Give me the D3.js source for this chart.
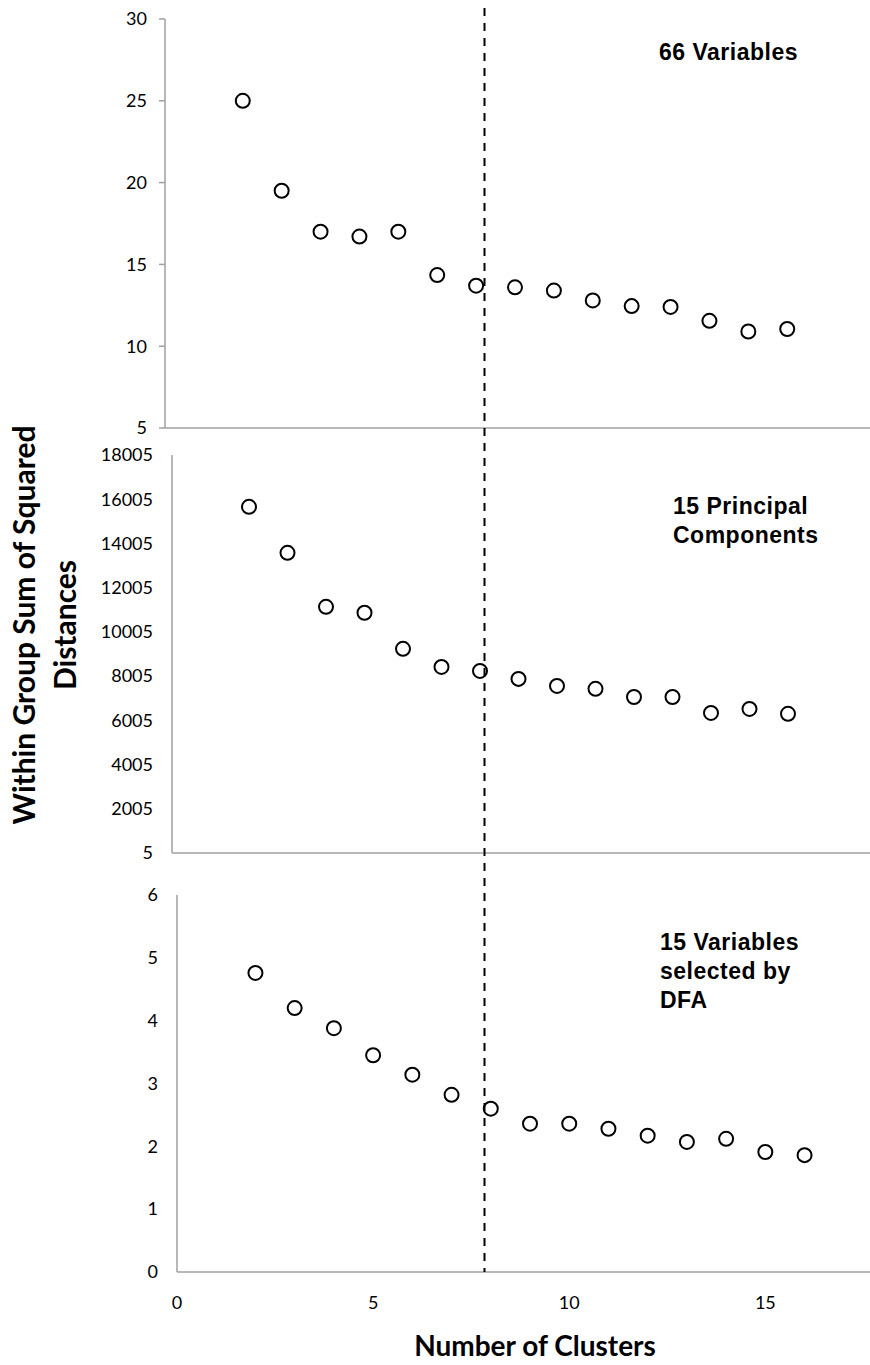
<!DOCTYPE html>
<html>
<head>
<meta charset="utf-8">
<script src="https://cdn.jsdelivr.net/npm/d3@7"></script>
<style>
  body { margin: 0; background: #fff; }
  svg text { fill: #000; }
  .tick-label { font-family: Lato, "Open Sans", sans-serif; font-size: 18px; }
  .panel-title { font-family: "Liberation Sans", Arial, sans-serif; font-weight: bold; font-size: 23px; letter-spacing: 0.5px; }
  .axis-title { font-family: Lato, "Open Sans", sans-serif; font-weight: bold; font-size: 28px; }
  .y-title { font-size: 30px; }
</style>
</head>
<body>
<svg id="chart" width="870" height="1365"></svg>
<script>
// cluster counts shared by all three panels
const clusters = [2, 3, 4, 5, 6, 7, 8, 9, 10, 11, 12, 13, 14, 15, 16];

// within-group sum of squared distances
const wgss66 = [25.0, 19.5, 17.0, 16.7, 17.0, 14.35, 13.7, 13.6, 13.4, 12.8, 12.45, 12.4, 11.55, 10.9, 11.05];
const wgssPC = [15660, 13580, 11140, 10870, 9240, 8420, 8240, 7880, 7560, 7430, 7060, 7060, 6340, 6520, 6300];
const wgssDFA = [4.76, 4.2, 3.88, 3.45, 3.14, 2.82, 2.6, 2.36, 2.36, 2.28, 2.17, 2.07, 2.12, 1.91, 1.86];

const ticks66 = [5, 10, 15, 20, 25, 30];
const ticksPC = [5, 2005, 4005, 6005, 8005, 10005, 12005, 14005, 16005, 18005];
const ticksDFA = [0, 1, 2, 3, 4, 5, 6];
const xTicks = [0, 5, 10, 15];

const chosenK = 7.84;

const svg = d3.select('#chart');

const panels = [
  { values: wgss66, ticks: ticks66, yDomain: [5, 30], xRange: [165, 865], yRange: [428, 19],
    tickSize: 6, labelX: 147, title: ['66 Variables'], titleX: 659, titleY: 60 },
  { values: wgssPC, ticks: ticksPC, yDomain: [5, 18005], xRange: [172, 865], yRange: [853, 455],
    tickSize: 0, labelX: 153, title: ['15 Principal', 'Components'], titleX: 673, titleY: 514 },
  { values: wgssDFA, ticks: ticksDFA, yDomain: [0, 6], xRange: [177, 883], yRange: [1272, 895],
    tickSize: 0, labelX: 158, title: ['15 Variables', 'selected by', 'DFA'], titleX: 660, titleY: 950 },
];

panels.forEach((p) => {
  p.x = d3.scaleLinear().domain([0, 18]).range(p.xRange);
  p.y = d3.scaleLinear().domain(p.yDomain).range(p.yRange);
  const g = svg.append('g');

  // axis lines
  g.append('line')
    .attr('x1', p.xRange[0]).attr('x2', 870)
    .attr('y1', p.yRange[0]).attr('y2', p.yRange[0])
    .attr('stroke', '#a0a0a0').attr('stroke-width', 1.5);
  g.append('line')
    .attr('x1', p.xRange[0]).attr('x2', p.xRange[0])
    .attr('y1', p.yRange[0]).attr('y2', p.yRange[1])
    .attr('stroke', '#a0a0a0').attr('stroke-width', 1.5);

  if (p.tickSize) {
    g.selectAll('line.tick')
      .data(p.ticks)
      .join('line')
      .attr('class', 'tick')
      .attr('x1', p.xRange[0] - p.tickSize).attr('x2', p.xRange[0])
      .attr('y1', (d) => p.y(d)).attr('y2', (d) => p.y(d))
      .attr('stroke', '#a0a0a0').attr('stroke-width', 1.5);
  }

  g.selectAll('text.tick-label')
    .data(p.ticks)
    .join('text')
    .attr('class', 'tick-label')
    .attr('x', p.labelX)
    .attr('y', (d) => p.y(d))
    .attr('dy', '0.35em')
    .attr('text-anchor', 'end')
    .text((d) => d);

  g.selectAll('circle')
    .data(p.values)
    .join('circle')
    .attr('cx', (d, i) => p.x(clusters[i]))
    .attr('cy', (d) => p.y(d))
    .attr('r', 7)
    .attr('fill', '#fff')
    .attr('stroke', '#000')
    .attr('stroke-width', 2);

  g.append('text')
    .attr('class', 'panel-title')
    .attr('x', p.titleX)
    .attr('y', p.titleY)
    .selectAll('tspan')
    .data(p.title)
    .join('tspan')
    .attr('x', p.titleX)
    .attr('dy', (d, i) => (i === 0 ? 0 : 29))
    .text((d) => d);
});

// shared x labels under the bottom panel
const bottom = panels[2];
svg.selectAll('text.x-label')
  .data(xTicks)
  .join('text')
  .attr('class', 'tick-label x-label')
  .attr('x', (d) => bottom.x(d))
  .attr('y', 1303)
  .attr('dy', '0.35em')
  .attr('text-anchor', 'middle')
  .text((d) => d);

// dashed line at the chosen number of clusters, through all panels
svg.append('line')
  .attr('x1', bottom.x(chosenK)).attr('x2', bottom.x(chosenK))
  .attr('y1', 8).attr('y2', bottom.y(0))
  .attr('stroke', '#000')
  .attr('stroke-width', 2)
  .attr('stroke-dasharray', '8,7');

svg.append('text')
  .attr('class', 'axis-title')
  .attr('x', 535).attr('y', 1356)
  .attr('text-anchor', 'middle')
  .text('Number of Clusters');

svg.append('text')
  .attr('class', 'axis-title y-title')
  .attr('transform', 'translate(35,625) rotate(-90)')
  .attr('text-anchor', 'middle')
  .selectAll('tspan')
  .data(['Within Group Sum of Squared', 'Distances'])
  .join('tspan')
  .attr('x', 0)
  .attr('dy', (d, i) => (i === 0 ? 0 : 41))
  .text((d) => d);
</script>
</body>
</html>
